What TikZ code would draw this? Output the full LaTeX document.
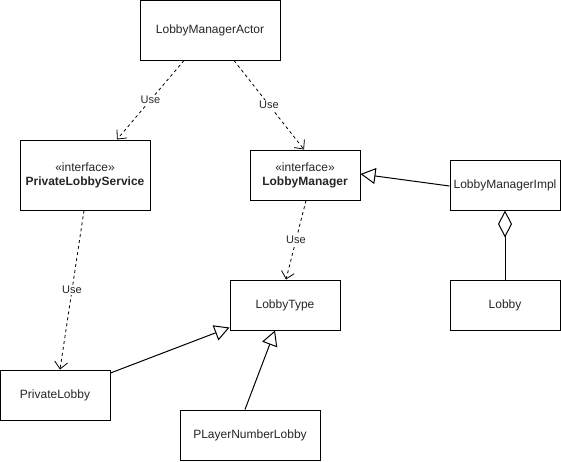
\documentclass[tikz,border=0pt]{standalone}
\usepackage{fontspec}
\setmainfont{Liberation Sans}
\usetikzlibrary{arrows.meta}
\begin{document}
\begin{tikzpicture}[x=1pt,y=-1pt,
  box/.style={draw=black, line width=1pt, fill=white, inner sep=0pt, align=center,
    font=\fontsize{12}{14}\selectfont, text=black!85},
  dep/.style={draw=black, line width=0.8pt, dash pattern=on 3pt off 3pt,
    -{Straight Barb[length=7pt,width=13pt,line width=0.8pt]}},
  gen/.style={draw=black, line width=1pt,
    -{Triangle[open,length=15pt,width=16pt,line width=1pt,fill=white]}},
  agg/.style={draw=black, line width=1pt,
    -{Diamond[open,length=27pt,width=14pt,line width=1pt,fill=white]}},
  lbl/.style={fill=white, inner sep=1pt, font=\fontsize{11}{13}\selectfont, text=black!85}
]
\useasboundingbox (0,0) rectangle (561,461);
\node[box, minimum width=140pt, minimum height=60pt] (actor) at (210,30) {LobbyManagerActor};
\node[box, minimum width=130pt, minimum height=70pt] (pls) at (85,175) {«interface»\\\textbf{PrivateLobbyService}};
\node[box, minimum width=110pt, minimum height=50pt] (lm) at (305,175) {«interface»\\\textbf{LobbyManager}};
\node[box, minimum width=110pt, minimum height=50pt] (lmi) at (505,185) {LobbyManagerImpl};
\node[box, minimum width=110pt, minimum height=50pt] (lt) at (285,305) {LobbyType};
\node[box, minimum width=110pt, minimum height=50pt] (lobby) at (505,305) {Lobby};
\node[box, minimum width=110pt, minimum height=50pt] (pl) at (55,395) {PrivateLobby};
\node[box, minimum width=140pt, minimum height=50pt] (pnl) at (250,435) {PLayerNumberLobby};

\draw[dep] ([xshift=-26pt]actor.south) -- node[lbl] {Use} ([xshift=32pt]pls.north);
\draw[dep] ([xshift=24pt]actor.south) -- node[lbl] {Use} ([xshift=-1pt]lm.north);
\draw[dep] ([xshift=1pt]lm.south) -- node[lbl] {Use} ([xshift=1pt]lt.north);
\draw[dep] ([xshift=-1pt]pls.south) -- node[lbl] {Use} ([xshift=5pt]pl.north);
\draw[gen] ([yshift=-1pt]lmi.west) -- ([yshift=1pt]lm.east);
\draw[agg] (lobby.north) -- (lmi.south);
\draw[gen] ([yshift=22pt]pl.east) -- ([yshift=3pt]lt.south west);
\draw[gen] ([xshift=-5pt]pnl.north) -- ([xshift=-10pt]lt.south);
\end{tikzpicture}
\end{document}
